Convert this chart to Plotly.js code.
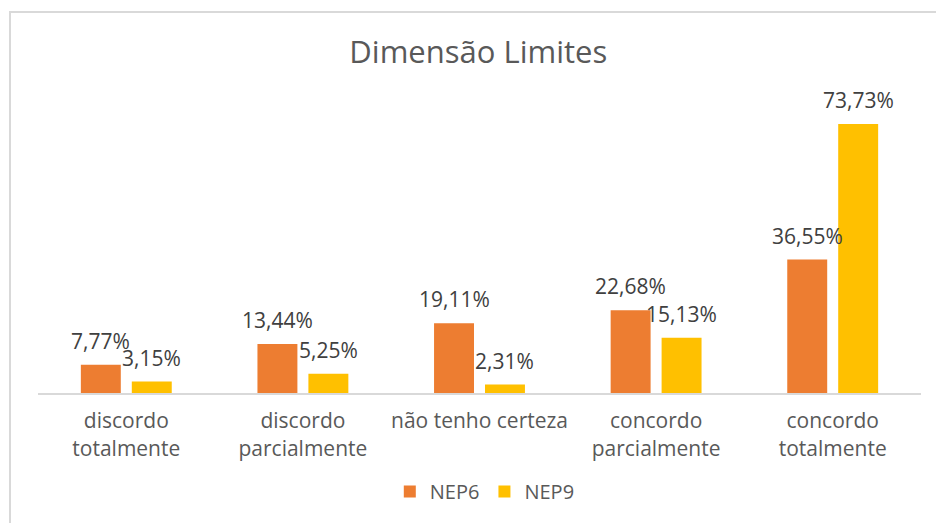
<!DOCTYPE html>
<html>
<head>
<meta charset="utf-8">
<script src="https://cdn.plot.ly/plotly-3.0.1.min.js"></script>
<style>
  html, body { margin: 0; padding: 0; background: #fff; }
  #frame { position: absolute; left: 9px; top: 11px; width: 1000px; height: 600px;
           border-top: 2px solid #d9d9d9; border-left: 2px solid #d9d9d9; }
  #chart { position: absolute; left: 0; top: 0; width: 936px; height: 523px; }
</style>
</head>
<body>
<div id="frame"></div>
<div id="chart"></div>
<script>
  // Dimensão Limites - respostas por categoria
  var categorias = ['discordo<br>totalmente', 'discordo<br>parcialmente', 'não tenho certeza',
                    'concordo<br>parcialmente', 'concordo<br>totalmente'];
  var nep6 = [7.77, 13.44, 19.11, 22.68, 36.55];
  var nep9 = [3.15, 5.25, 2.31, 15.13, 73.73];

  function rotulo(v){ return v.toFixed(2).replace('.', ',') + '%'; }

  var fonte = '"Open Sans", "Segoe UI", sans-serif';
  var bargap = 0.423;
  var meio = (1 - bargap) / 4; // centro de cada barra dentro do grupo

  var t1 = {x: categorias, y: nep6, type: 'bar', name: 'NEP6',
            marker: {color: '#ED7D31'}, hoverinfo: 'none'};
  var t2 = {x: categorias, y: nep9, type: 'bar', name: 'NEP9',
            marker: {color: '#FFC000'}, hoverinfo: 'none'};

  // rotulos de dados acima das barras
  var anots = [];
  function addRotulos(vals, desloc){
    vals.forEach(function(v, i){
      anots.push({x: i + desloc, y: v, xref: 'x', yref: 'y', text: rotulo(v),
                  showarrow: false, yanchor: 'bottom', yshift: 8,
                  font: {size: 21, color: '#404040'}});
    });
  }
  addRotulos(nep6, -meio);
  addRotulos(nep9, meio);

  var layout = {
    width: 936, height: 523,
    paper_bgcolor: 'rgba(0,0,0,0)', plot_bgcolor: 'rgba(0,0,0,0)',
    font: {family: fonte, color: '#595959'},
    title: {text: 'Dimensão Limites', font: {size: 31, color: '#595959'},
            x: 0.511, xanchor: 'center', y: 0.9, yanchor: 'middle'},
    margin: {l: 38, r: 15, t: 101, b: 128},
    barmode: 'group', bargap: bargap, bargroupgap: 0.216,
    showlegend: true,
    legend: {orientation: 'h', x: 0.506, xanchor: 'center', y: -0.337, yanchor: 'middle',
             font: {size: 20, color: '#595959'}, itemwidth: 30, traceorder: 'normal'},
    annotations: anots,
    xaxis: {showline: true, linecolor: '#d9d9d9', linewidth: 2, ticks: '',
            ticklabelstandoff: 8,
            tickfont: {size: 21, color: '#595959'}, fixedrange: true},
    yaxis: {range: [0, 80], visible: false, showgrid: false, zeroline: false, fixedrange: true}
  };

  Plotly.newPlot('chart', [t1, t2], layout, {displayModeBar: false, staticPlot: true});
</script>
</body>
</html>
